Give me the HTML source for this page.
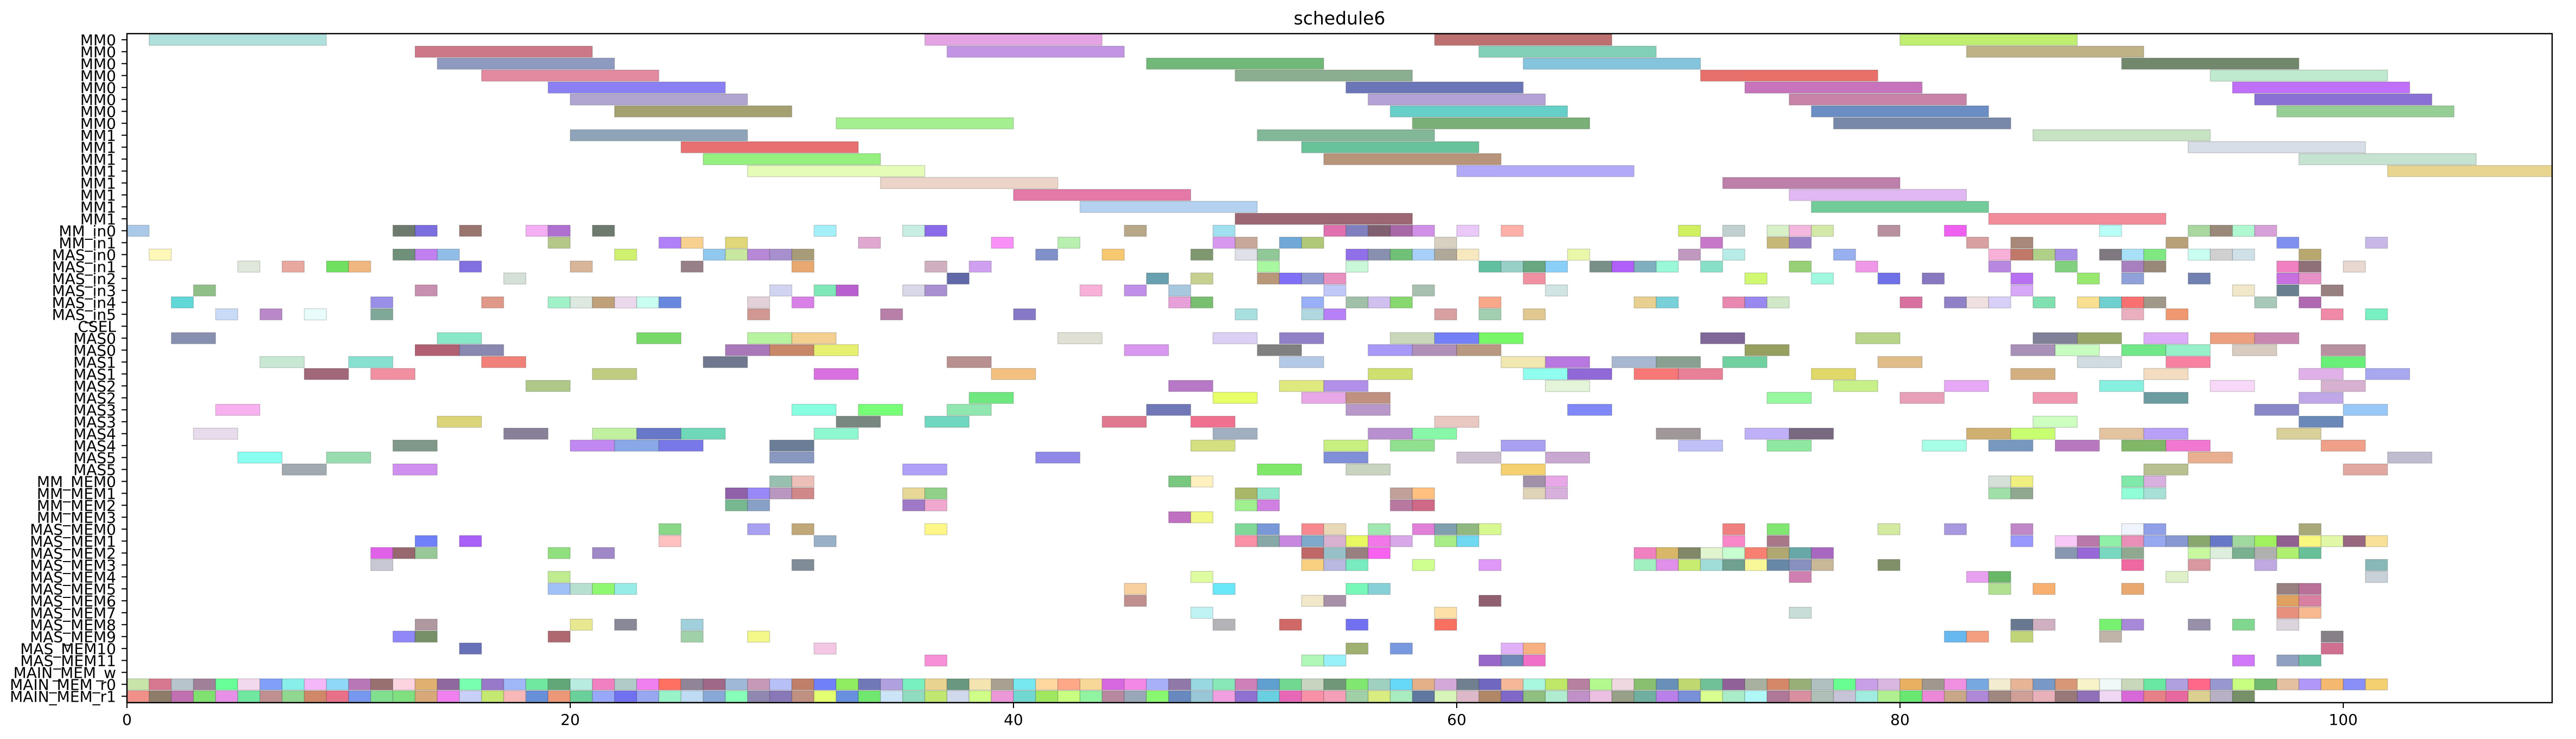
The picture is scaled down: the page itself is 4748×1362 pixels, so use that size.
<!DOCTYPE html>
<html><head><meta charset="utf-8"><style>
html,body{margin:0;padding:0;background:#fff}
svg{display:block}
.d rect{stroke:rgba(0,0,0,.16);stroke-width:1.5;vector-effect:non-scaling-stroke}
text{font-family:"DejaVu Sans","Liberation Sans",sans-serif;fill:#000}
</style></head><body>
<svg width="4748" height="1362" viewBox="0 0 4748 1362" xmlns="http://www.w3.org/2000/svg">
<defs><clipPath id="cp"><rect x="234" y="62" width="4470" height="1233"/></clipPath></defs>
<text x="2469" y="45" font-size="33" text-anchor="middle">schedule6</text>
<g clip-path="url(#cp)"><g class="d" transform="translate(234,73.3) scale(40.85,22)">
<g transform="translate(0,-0.47)"><rect x="1" width="8" height=".94" fill="#b0e0dc"/><rect x="36" width="8" height=".94" fill="#e4a4e4"/><rect x="59" width="8" height=".94" fill="#bc7070"/><rect x="80" width="8" height=".94" fill="#c0ee70"/></g>
<g transform="translate(0,0.53)"><rect x="13" width="8" height=".94" fill="#cc7888"/><rect x="37" width="8" height=".94" fill="#c494e4"/><rect x="61" width="8" height=".94" fill="#82d0b8"/><rect x="83" width="8" height=".94" fill="#beb286"/></g>
<g transform="translate(0,1.53)"><rect x="14" width="8" height=".94" fill="#8f9ac0"/><rect x="46" width="8" height=".94" fill="#72b878"/><rect x="63" width="8" height=".94" fill="#84c4dc"/><rect x="90" width="8" height=".94" fill="#72886c"/></g>
<g transform="translate(0,2.53)"><rect x="16" width="8" height=".94" fill="#e48aa0"/><rect x="50" width="8" height=".94" fill="#8cae90"/><rect x="71" width="8" height=".94" fill="#e8706a"/><rect x="94" width="8" height=".94" fill="#c0ead0"/></g>
<g transform="translate(0,3.53)"><rect x="19" width="8" height=".94" fill="#8a80f4"/><rect x="55" width="8" height=".94" fill="#6a76b8"/><rect x="73" width="8" height=".94" fill="#c874bc"/><rect x="95" width="8" height=".94" fill="#c070f8"/></g>
<g transform="translate(0,4.53)"><rect x="20" width="8" height=".94" fill="#b0a4d0"/><rect x="56" width="8" height=".94" fill="#b4a2d6"/><rect x="75" width="8" height=".94" fill="#c884a8"/><rect x="96" width="8" height=".94" fill="#8870d4"/></g>
<g transform="translate(0,5.53)"><rect x="22" width="8" height=".94" fill="#a4a070"/><rect x="57" width="8" height=".94" fill="#66d0c8"/><rect x="76" width="8" height=".94" fill="#6a8ec4"/><rect x="97" width="8" height=".94" fill="#96ce96"/></g>
<g transform="translate(0,6.53)"><rect x="32" width="8" height=".94" fill="#a4f090"/><rect x="58" width="8" height=".94" fill="#78b078"/><rect x="77" width="8" height=".94" fill="#7888a8"/></g>
<g transform="translate(0,7.53)"><rect x="20" width="8" height=".94" fill="#8fa4b8"/><rect x="51" width="8" height=".94" fill="#82b898"/><rect x="86" width="8" height=".94" fill="#c8e2c4"/></g>
<g transform="translate(0,8.53)"><rect x="25" width="8" height=".94" fill="#e87070"/><rect x="53" width="8" height=".94" fill="#6ac29a"/><rect x="93" width="8" height=".94" fill="#d8dee6"/></g>
<g transform="translate(0,9.53)"><rect x="26" width="8" height=".94" fill="#96f080"/><rect x="54" width="8" height=".94" fill="#b8947a"/><rect x="98" width="8" height=".94" fill="#c6e2d0"/></g>
<g transform="translate(0,10.53)"><rect x="28" width="8" height=".94" fill="#e4fcb8"/><rect x="60" width="8" height=".94" fill="#b2aaf8"/><rect x="102" width="8" height=".94" fill="#e8d690"/></g>
<g transform="translate(0,11.53)"><rect x="34" width="8" height=".94" fill="#ecd4c8"/><rect x="72" width="8" height=".94" fill="#bc80aa"/></g>
<g transform="translate(0,12.53)"><rect x="40" width="8" height=".94" fill="#e478a6"/><rect x="75" width="8" height=".94" fill="#e2b8f2"/></g>
<g transform="translate(0,13.53)"><rect x="43" width="8" height=".94" fill="#b4d2f0"/><rect x="76" width="8" height=".94" fill="#72cc9a"/></g>
<g transform="translate(0,14.53)"><rect x="50" width="8" height=".94" fill="#9c6672"/><rect x="84" width="8" height=".94" fill="#f28c9a"/></g>
<g transform="translate(0,15.53)"><rect x="0" width="1" height=".94" fill="#aac8e8"/><rect x="12" width="1" height=".94" fill="#6f7a6e"/><rect x="13" width="1" height=".94" fill="#7b6fe0"/><rect x="15" width="1" height=".94" fill="#9a7570"/><rect x="18" width="1" height=".94" fill="#f4aef4"/><rect x="19" width="1" height=".94" fill="#b070d0"/><rect x="21" width="1" height=".94" fill="#6f7a6e"/><rect x="31" width="1" height=".94" fill="#a5f0f8"/><rect x="35" width="1" height=".94" fill="#c8eee4"/><rect x="36" width="1" height=".94" fill="#8a6ae8"/><rect x="45" width="1" height=".94" fill="#b8a888"/><rect x="49" width="1" height=".94" fill="#a0e0f0"/><rect x="54" width="1" height=".94" fill="#e070b0"/><rect x="55" width="1" height=".94" fill="#8080c0"/><rect x="56" width="1" height=".94" fill="#806070"/><rect x="57" width="1" height=".94" fill="#a868a8"/><rect x="58" width="1" height=".94" fill="#d090e8"/><rect x="60" width="1" height=".94" fill="#eac8f8"/><rect x="62" width="1" height=".94" fill="#ffb0a8"/><rect x="70" width="1" height=".94" fill="#d0f060"/><rect x="72" width="1" height=".94" fill="#c0d0d0"/><rect x="74" width="1" height=".94" fill="#d8f0c8"/><rect x="75" width="1" height=".94" fill="#f4b8e0"/><rect x="76" width="1" height=".94" fill="#d4e8a8"/><rect x="79" width="1" height=".94" fill="#b890a0"/><rect x="82" width="1" height=".94" fill="#f060f0"/><rect x="89" width="1" height=".94" fill="#b8fff8"/><rect x="93" width="1" height=".94" fill="#a8d8a0"/><rect x="94" width="1" height=".94" fill="#9a8878"/><rect x="95" width="1" height=".94" fill="#b0f8d0"/><rect x="96" width="1" height=".94" fill="#d8a0d8"/></g>
<g transform="translate(0,16.53)"><rect x="19" width="1" height=".94" fill="#b4c888"/><rect x="24" width="1" height=".94" fill="#b080f8"/><rect x="25" width="1" height=".94" fill="#f8d090"/><rect x="27" width="1" height=".94" fill="#e0d878"/><rect x="33" width="1" height=".94" fill="#e0a8d0"/><rect x="39" width="1" height=".94" fill="#f890f8"/><rect x="42" width="1" height=".94" fill="#b8f0b0"/><rect x="49" width="1" height=".94" fill="#d898f0"/><rect x="50" width="1" height=".94" fill="#c8a898"/><rect x="52" width="1" height=".94" fill="#70a8d8"/><rect x="53" width="1" height=".94" fill="#b0c878"/><rect x="59" width="1" height=".94" fill="#d8d0c0"/><rect x="71" width="1" height=".94" fill="#c878c8"/><rect x="74" width="1" height=".94" fill="#c8b878"/><rect x="75" width="1" height=".94" fill="#9880c8"/><rect x="83" width="1" height=".94" fill="#d8a0a0"/><rect x="85" width="1" height=".94" fill="#a88878"/><rect x="92" width="1" height=".94" fill="#b8a078"/><rect x="97" width="1" height=".94" fill="#8090f0"/><rect x="101" width="1" height=".94" fill="#c8b8e8"/></g>
<g transform="translate(0,17.53)"><rect x="1" width="1" height=".94" fill="#fff8b8"/><rect x="12" width="1" height=".94" fill="#70907a"/><rect x="13" width="1" height=".94" fill="#c080f0"/><rect x="14" width="1" height=".94" fill="#90bce8"/><rect x="22" width="1" height=".94" fill="#d0f070"/><rect x="26" width="1" height=".94" fill="#90c8f0"/><rect x="27" width="1" height=".94" fill="#c8e8a0"/><rect x="28" width="1" height=".94" fill="#b888d8"/><rect x="29" width="1" height=".94" fill="#a890d0"/><rect x="30" width="1" height=".94" fill="#a89c78"/><rect x="41" width="1" height=".94" fill="#8090c8"/><rect x="44" width="1" height=".94" fill="#f8c870"/><rect x="48" width="1" height=".94" fill="#809870"/><rect x="50" width="1" height=".94" fill="#e0e0e8"/><rect x="51" width="1" height=".94" fill="#90c898"/><rect x="55" width="1" height=".94" fill="#9070e8"/><rect x="56" width="1" height=".94" fill="#8890b0"/><rect x="57" width="1" height=".94" fill="#70c078"/><rect x="58" width="1" height=".94" fill="#a8d0f8"/><rect x="59" width="1" height=".94" fill="#b0a898"/><rect x="60" width="1" height=".94" fill="#f8e8c0"/><rect x="65" width="1" height=".94" fill="#e8f8a8"/><rect x="70" width="1" height=".94" fill="#c098c0"/><rect x="72" width="1" height=".94" fill="#b8ece8"/><rect x="77" width="1" height=".94" fill="#98b0f0"/><rect x="84" width="1" height=".94" fill="#f8b0d8"/><rect x="85" width="1" height=".94" fill="#c07868"/><rect x="86" width="1" height=".94" fill="#b0d088"/><rect x="87" width="1" height=".94" fill="#a890e8"/><rect x="89" width="1" height=".94" fill="#807880"/><rect x="90" width="1" height=".94" fill="#a8e0f8"/><rect x="91" width="1" height=".94" fill="#80e880"/><rect x="93" width="1" height=".94" fill="#c8fff0"/><rect x="94" width="1" height=".94" fill="#d0d0d0"/><rect x="95" width="1" height=".94" fill="#d0e0e8"/><rect x="98" width="1" height=".94" fill="#b8a870"/></g>
<g transform="translate(0,18.53)"><rect x="5" width="1" height=".94" fill="#e0e8dc"/><rect x="7" width="1" height=".94" fill="#e8a8a0"/><rect x="9" width="1" height=".94" fill="#70e060"/><rect x="10" width="1" height=".94" fill="#f0b880"/><rect x="15" width="1" height=".94" fill="#8070e0"/><rect x="20" width="1" height=".94" fill="#d8b498"/><rect x="25" width="1" height=".94" fill="#988088"/><rect x="30" width="1" height=".94" fill="#e8a870"/><rect x="36" width="1" height=".94" fill="#d0b0c0"/><rect x="38" width="1" height=".94" fill="#d0a0f0"/><rect x="51" width="1" height=".94" fill="#a8f8a0"/><rect x="55" width="1" height=".94" fill="#c8f8d8"/><rect x="61" width="1" height=".94" fill="#60c0a0"/><rect x="62" width="1" height=".94" fill="#98d0c8"/><rect x="63" width="1" height=".94" fill="#68a880"/><rect x="64" width="1" height=".94" fill="#88d0f8"/><rect x="66" width="1" height=".94" fill="#789088"/><rect x="67" width="1" height=".94" fill="#b060f8"/><rect x="68" width="1" height=".94" fill="#80b0c0"/><rect x="69" width="1" height=".94" fill="#98f8d8"/><rect x="71" width="1" height=".94" fill="#88e0c8"/><rect x="75" width="1" height=".94" fill="#98d078"/><rect x="78" width="1" height=".94" fill="#f098e8"/><rect x="84" width="1" height=".94" fill="#b888e0"/><rect x="87" width="1" height=".94" fill="#80d080"/><rect x="90" width="1" height=".94" fill="#a880c0"/><rect x="91" width="1" height=".94" fill="#988878"/><rect x="97" width="1" height=".94" fill="#f080c0"/><rect x="98" width="1" height=".94" fill="#907078"/><rect x="100" width="1" height=".94" fill="#e8d8d0"/></g>
<g transform="translate(0,19.53)"><rect x="17" width="1" height=".94" fill="#d4e0d8"/><rect x="37" width="1" height=".94" fill="#6068a8"/><rect x="46" width="1" height=".94" fill="#68a0b0"/><rect x="48" width="1" height=".94" fill="#c8d090"/><rect x="51" width="1" height=".94" fill="#b89878"/><rect x="52" width="1" height=".94" fill="#8070f8"/><rect x="53" width="1" height=".94" fill="#9098d0"/><rect x="54" width="1" height=".94" fill="#e890c0"/><rect x="63" width="1" height=".94" fill="#f090a0"/><rect x="73" width="1" height=".94" fill="#d0f870"/><rect x="76" width="1" height=".94" fill="#a0f8e0"/><rect x="79" width="1" height=".94" fill="#7070e8"/><rect x="81" width="1" height=".94" fill="#8878c0"/><rect x="85" width="1" height=".94" fill="#b870f0"/><rect x="88" width="1" height=".94" fill="#98e870"/><rect x="90" width="1" height=".94" fill="#90a0d8"/><rect x="93" width="1" height=".94" fill="#7080b0"/><rect x="97" width="1" height=".94" fill="#c870e0"/><rect x="98" width="1" height=".94" fill="#e890c8"/></g>
<g transform="translate(0,20.53)"><rect x="3" width="1" height=".94" fill="#90c088"/><rect x="13" width="1" height=".94" fill="#c890b0"/><rect x="29" width="1" height=".94" fill="#d0d4f0"/><rect x="31" width="1" height=".94" fill="#80e8b8"/><rect x="32" width="1" height=".94" fill="#b860d0"/><rect x="35" width="1" height=".94" fill="#d8d8e8"/><rect x="36" width="1" height=".94" fill="#a890d0"/><rect x="43" width="1" height=".94" fill="#f8b0d8"/><rect x="45" width="1" height=".94" fill="#c090e8"/><rect x="47" width="1" height=".94" fill="#a8c8e0"/><rect x="54" width="1" height=".94" fill="#c0c8f8"/><rect x="58" width="1" height=".94" fill="#a8c0b0"/><rect x="64" width="1" height=".94" fill="#d0e4e4"/><rect x="85" width="1" height=".94" fill="#d8a8f8"/><rect x="95" width="1" height=".94" fill="#f0e8c8"/><rect x="97" width="1" height=".94" fill="#688090"/><rect x="99" width="1" height=".94" fill="#988080"/></g>
<g transform="translate(0,21.53)"><rect x="2" width="1" height=".94" fill="#60d8d8"/><rect x="11" width="1" height=".94" fill="#9890e8"/><rect x="16" width="1" height=".94" fill="#e09888"/><rect x="19" width="1" height=".94" fill="#a0f0c8"/><rect x="20" width="1" height=".94" fill="#dce8e0"/><rect x="21" width="1" height=".94" fill="#c0a078"/><rect x="22" width="1" height=".94" fill="#ecd8ec"/><rect x="23" width="1" height=".94" fill="#c8fff0"/><rect x="24" width="1" height=".94" fill="#6888e0"/><rect x="28" width="1" height=".94" fill="#e4d0d8"/><rect x="30" width="1" height=".94" fill="#d880e8"/><rect x="47" width="1" height=".94" fill="#e8a0d8"/><rect x="48" width="1" height=".94" fill="#78c070"/><rect x="53" width="1" height=".94" fill="#98b0f8"/><rect x="55" width="1" height=".94" fill="#a0c0a8"/><rect x="56" width="1" height=".94" fill="#d0c0f0"/><rect x="57" width="1" height=".94" fill="#88d870"/><rect x="61" width="1" height=".94" fill="#f8a888"/><rect x="68" width="1" height=".94" fill="#e8d090"/><rect x="69" width="1" height=".94" fill="#78d0d8"/><rect x="72" width="1" height=".94" fill="#e888b0"/><rect x="73" width="1" height=".94" fill="#9888f0"/><rect x="74" width="1" height=".94" fill="#d0e8c8"/><rect x="80" width="1" height=".94" fill="#d870a0"/><rect x="82" width="1" height=".94" fill="#9080c8"/><rect x="83" width="1" height=".94" fill="#f0e0e0"/><rect x="84" width="1" height=".94" fill="#d8d0f8"/><rect x="86" width="1" height=".94" fill="#80e0b0"/><rect x="88" width="1" height=".94" fill="#f8e090"/><rect x="89" width="1" height=".94" fill="#70d0d0"/><rect x="90" width="1" height=".94" fill="#f87070"/><rect x="91" width="1" height=".94" fill="#a09888"/><rect x="96" width="1" height=".94" fill="#a8c8b8"/><rect x="98" width="1" height=".94" fill="#b068b0"/></g>
<g transform="translate(0,22.53)"><rect x="4" width="1" height=".94" fill="#c8dcf8"/><rect x="6" width="1" height=".94" fill="#b888c8"/><rect x="8" width="1" height=".94" fill="#e8fcfc"/><rect x="11" width="1" height=".94" fill="#80a898"/><rect x="28" width="1" height=".94" fill="#d09890"/><rect x="34" width="1" height=".94" fill="#b880a8"/><rect x="40" width="1" height=".94" fill="#8878c8"/><rect x="50" width="1" height=".94" fill="#a8e0e0"/><rect x="53" width="1" height=".94" fill="#b0d8e0"/><rect x="54" width="1" height=".94" fill="#b880f8"/><rect x="59" width="1" height=".94" fill="#d8a0a0"/><rect x="61" width="1" height=".94" fill="#a0d0b0"/><rect x="63" width="1" height=".94" fill="#e0c890"/><rect x="90" width="1" height=".94" fill="#eab0c0"/><rect x="92" width="1" height=".94" fill="#f09870"/><rect x="99" width="1" height=".94" fill="#f088a8"/><rect x="101" width="1" height=".94" fill="#78f0c0"/></g>
<g transform="translate(0,24.53)"><rect x="2" width="2" height=".94" fill="#8890b0"/><rect x="14" width="2" height=".94" fill="#88e8c8"/><rect x="23" width="2" height=".94" fill="#78d868"/><rect x="28" width="2" height=".94" fill="#b8f4a0"/><rect x="30" width="2" height=".94" fill="#f4d090"/><rect x="42" width="2" height=".94" fill="#e0e0d4"/><rect x="49" width="2" height=".94" fill="#dcd0f4"/><rect x="52" width="2" height=".94" fill="#9080c8"/><rect x="57" width="2" height=".94" fill="#c8d8b8"/><rect x="59" width="2" height=".94" fill="#7480f8"/><rect x="61" width="2" height=".94" fill="#78f868"/><rect x="71" width="2" height=".94" fill="#806898"/><rect x="78" width="2" height=".94" fill="#b8d488"/><rect x="86" width="2" height=".94" fill="#808098"/><rect x="88" width="2" height=".94" fill="#98a868"/><rect x="91" width="2" height=".94" fill="#dcacf8"/><rect x="94" width="2" height=".94" fill="#eca080"/><rect x="96" width="2" height=".94" fill="#c888b0"/></g>
<g transform="translate(0,25.53)"><rect x="13" width="2" height=".94" fill="#b06070"/><rect x="15" width="2" height=".94" fill="#8888b0"/><rect x="27" width="2" height=".94" fill="#a878b8"/><rect x="29" width="2" height=".94" fill="#c88868"/><rect x="31" width="2" height=".94" fill="#e8f070"/><rect x="45" width="2" height=".94" fill="#d898f0"/><rect x="51" width="2" height=".94" fill="#808080"/><rect x="56" width="2" height=".94" fill="#a898f8"/><rect x="58" width="2" height=".94" fill="#b090b8"/><rect x="60" width="2" height=".94" fill="#b89880"/><rect x="73" width="2" height=".94" fill="#98a060"/><rect x="85" width="2" height=".94" fill="#a890b8"/><rect x="87" width="2" height=".94" fill="#c8fcc0"/><rect x="90" width="2" height=".94" fill="#70e888"/><rect x="92" width="2" height=".94" fill="#98f0c8"/><rect x="95" width="2" height=".94" fill="#d8ccc0"/><rect x="99" width="2" height=".94" fill="#b890a0"/></g>
<g transform="translate(0,26.53)"><rect x="6" width="2" height=".94" fill="#c8e8d4"/><rect x="10" width="2" height=".94" fill="#88e0d0"/><rect x="16" width="2" height=".94" fill="#f08078"/><rect x="26" width="2" height=".94" fill="#707890"/><rect x="37" width="2" height=".94" fill="#b89090"/><rect x="52" width="2" height=".94" fill="#b4c8e8"/><rect x="62" width="2" height=".94" fill="#f0e8b0"/><rect x="64" width="2" height=".94" fill="#b878e0"/><rect x="67" width="2" height=".94" fill="#a8b8d0"/><rect x="69" width="2" height=".94" fill="#88a090"/><rect x="72" width="2" height=".94" fill="#70d0a0"/><rect x="79" width="2" height=".94" fill="#e0bc88"/><rect x="88" width="2" height=".94" fill="#d0dce0"/><rect x="92" width="2" height=".94" fill="#f880a0"/><rect x="99" width="2" height=".94" fill="#68f078"/></g>
<g transform="translate(0,27.53)"><rect x="8" width="2" height=".94" fill="#a06878"/><rect x="11" width="2" height=".94" fill="#f090a0"/><rect x="21" width="2" height=".94" fill="#c0cc80"/><rect x="31" width="2" height=".94" fill="#d870e0"/><rect x="39" width="2" height=".94" fill="#f4c080"/><rect x="56" width="2" height=".94" fill="#d0e070"/><rect x="63" width="2" height=".94" fill="#90fff0"/><rect x="65" width="2" height=".94" fill="#9068d8"/><rect x="68" width="2" height=".94" fill="#f87878"/><rect x="70" width="2" height=".94" fill="#e88098"/><rect x="76" width="2" height=".94" fill="#e0d868"/><rect x="85" width="2" height=".94" fill="#d4b080"/><rect x="91" width="2" height=".94" fill="#f4dcc0"/><rect x="98" width="2" height=".94" fill="#e0b0e8"/><rect x="101" width="2" height=".94" fill="#a8a8f0"/></g>
<g transform="translate(0,28.53)"><rect x="18" width="2" height=".94" fill="#b0c888"/><rect x="47" width="2" height=".94" fill="#b878c8"/><rect x="52" width="2" height=".94" fill="#e0e880"/><rect x="54" width="2" height=".94" fill="#b090e8"/><rect x="64" width="2" height=".94" fill="#e4f4d8"/><rect x="77" width="2" height=".94" fill="#c8f088"/><rect x="82" width="2" height=".94" fill="#e8a8f8"/><rect x="89" width="2" height=".94" fill="#88f0e0"/><rect x="94" width="2" height=".94" fill="#f8d8f8"/><rect x="99" width="2" height=".94" fill="#d8b0d0"/></g>
<g transform="translate(0,29.53)"><rect x="38" width="2" height=".94" fill="#70e880"/><rect x="49" width="2" height=".94" fill="#e8ff68"/><rect x="53" width="2" height=".94" fill="#e8a8e8"/><rect x="55" width="2" height=".94" fill="#c09080"/><rect x="74" width="2" height=".94" fill="#98f8a0"/><rect x="80" width="2" height=".94" fill="#e8a0b8"/><rect x="86" width="2" height=".94" fill="#f098b0"/><rect x="91" width="2" height=".94" fill="#6a9ca0"/><rect x="98" width="2" height=".94" fill="#c0a8e8"/></g>
<g transform="translate(0,30.53)"><rect x="4" width="2" height=".94" fill="#f8b0f0"/><rect x="30" width="2" height=".94" fill="#88ffe0"/><rect x="33" width="2" height=".94" fill="#78ff78"/><rect x="37" width="2" height=".94" fill="#90e8b0"/><rect x="46" width="2" height=".94" fill="#7078b8"/><rect x="55" width="2" height=".94" fill="#b898c8"/><rect x="65" width="2" height=".94" fill="#8088f8"/><rect x="96" width="2" height=".94" fill="#8888c8"/><rect x="100" width="2" height=".94" fill="#98c8f8"/></g>
<g transform="translate(0,31.53)"><rect x="14" width="2" height=".94" fill="#dcd478"/><rect x="32" width="2" height=".94" fill="#788880"/><rect x="36" width="2" height=".94" fill="#70d8c0"/><rect x="44" width="2" height=".94" fill="#e07890"/><rect x="48" width="2" height=".94" fill="#f07090"/><rect x="59" width="2" height=".94" fill="#e8c8c0"/><rect x="86" width="2" height=".94" fill="#ccffc0"/><rect x="98" width="2" height=".94" fill="#6a88b8"/></g>
<g transform="translate(0,32.53)"><rect x="3" width="2" height=".94" fill="#e8dcec"/><rect x="17" width="2" height=".94" fill="#888098"/><rect x="21" width="2" height=".94" fill="#c0f0a0"/><rect x="23" width="2" height=".94" fill="#6878c8"/><rect x="25" width="2" height=".94" fill="#70d8b8"/><rect x="31" width="2" height=".94" fill="#90f8d0"/><rect x="49" width="2" height=".94" fill="#a0b0c0"/><rect x="56" width="2" height=".94" fill="#b890d0"/><rect x="58" width="2" height=".94" fill="#88f8a8"/><rect x="69" width="2" height=".94" fill="#a09898"/><rect x="73" width="2" height=".94" fill="#c0b0f8"/><rect x="75" width="2" height=".94" fill="#786880"/><rect x="83" width="2" height=".94" fill="#d0b070"/><rect x="85" width="2" height=".94" fill="#c8ff70"/><rect x="89" width="2" height=".94" fill="#e4c4a0"/><rect x="91" width="2" height=".94" fill="#b8a0f8"/><rect x="97" width="2" height=".94" fill="#d8d098"/></g>
<g transform="translate(0,33.53)"><rect x="12" width="2" height=".94" fill="#809888"/><rect x="20" width="2" height=".94" fill="#c088f0"/><rect x="22" width="2" height=".94" fill="#88a8e8"/><rect x="24" width="2" height=".94" fill="#7878e8"/><rect x="29" width="2" height=".94" fill="#6a7e98"/><rect x="48" width="2" height=".94" fill="#d4e080"/><rect x="54" width="2" height=".94" fill="#c8f080"/><rect x="57" width="2" height=".94" fill="#90e090"/><rect x="62" width="2" height=".94" fill="#a8a0f0"/><rect x="70" width="2" height=".94" fill="#c0c0f8"/><rect x="74" width="2" height=".94" fill="#8ee8a0"/><rect x="81" width="2" height=".94" fill="#a8ffe8"/><rect x="84" width="2" height=".94" fill="#7898c0"/><rect x="87" width="2" height=".94" fill="#b878c0"/><rect x="90" width="2" height=".94" fill="#80b868"/><rect x="92" width="2" height=".94" fill="#f078d0"/><rect x="99" width="2" height=".94" fill="#f0a088"/></g>
<g transform="translate(0,34.53)"><rect x="5" width="2" height=".94" fill="#88fff0"/><rect x="9" width="2" height=".94" fill="#98dcb0"/><rect x="29" width="2" height=".94" fill="#8898c0"/><rect x="41" width="2" height=".94" fill="#9088e8"/><rect x="54" width="2" height=".94" fill="#8090d8"/><rect x="60" width="2" height=".94" fill="#ccc0d0"/><rect x="64" width="2" height=".94" fill="#c8a8d0"/><rect x="93" width="2" height=".94" fill="#e8b090"/><rect x="102" width="2" height=".94" fill="#c0bcd0"/></g>
<g transform="translate(0,35.53)"><rect x="7" width="2" height=".94" fill="#a0aab0"/><rect x="12" width="2" height=".94" fill="#d090f0"/><rect x="35" width="2" height=".94" fill="#b0a0f8"/><rect x="51" width="2" height=".94" fill="#80e868"/><rect x="55" width="2" height=".94" fill="#c8d4c0"/><rect x="62" width="2" height=".94" fill="#f4d070"/><rect x="91" width="2" height=".94" fill="#b8c090"/><rect x="100" width="2" height=".94" fill="#e0a8a0"/></g>
<g transform="translate(0,36.53)"><rect x="29" width="1" height=".94" fill="#98c0b0"/><rect x="30" width="1" height=".94" fill="#ecc0b8"/><rect x="47" width="1" height=".94" fill="#78c880"/><rect x="48" width="1" height=".94" fill="#fff0c0"/><rect x="63" width="1" height=".94" fill="#a090a8"/><rect x="64" width="1" height=".94" fill="#e8a8e8"/><rect x="84" width="1" height=".94" fill="#d4e0d8"/><rect x="85" width="1" height=".94" fill="#f0f080"/><rect x="90" width="1" height=".94" fill="#80e8a8"/><rect x="91" width="1" height=".94" fill="#d8b0e0"/></g>
<g transform="translate(0,37.53)"><rect x="27" width="1" height=".94" fill="#9060a8"/><rect x="28" width="1" height=".94" fill="#9888f8"/><rect x="29" width="1" height=".94" fill="#b898c0"/><rect x="30" width="1" height=".94" fill="#d08888"/><rect x="35" width="1" height=".94" fill="#e8d898"/><rect x="36" width="1" height=".94" fill="#90d088"/><rect x="50" width="1" height=".94" fill="#a8b868"/><rect x="51" width="1" height=".94" fill="#90e8c8"/><rect x="57" width="1" height=".94" fill="#c0a098"/><rect x="58" width="1" height=".94" fill="#ffc080"/><rect x="63" width="1" height=".94" fill="#e0d4b8"/><rect x="64" width="1" height=".94" fill="#d8b0dc"/><rect x="84" width="1" height=".94" fill="#a0e0a8"/><rect x="85" width="1" height=".94" fill="#90a890"/><rect x="90" width="1" height=".94" fill="#90ffd8"/><rect x="91" width="1" height=".94" fill="#a8e0d8"/></g>
<g transform="translate(0,38.53)"><rect x="27" width="1" height=".94" fill="#78b890"/><rect x="28" width="1" height=".94" fill="#88a0c8"/><rect x="35" width="1" height=".94" fill="#a078c8"/><rect x="36" width="1" height=".94" fill="#f0a8d0"/><rect x="50" width="1" height=".94" fill="#a0f090"/><rect x="51" width="1" height=".94" fill="#d080e0"/><rect x="57" width="1" height=".94" fill="#b878a0"/><rect x="58" width="1" height=".94" fill="#d06888"/></g>
<g transform="translate(0,39.53)"><rect x="47" width="1" height=".94" fill="#c070c0"/><rect x="48" width="1" height=".94" fill="#f0f888"/></g>
<g transform="translate(0,40.53)"><rect x="24" width="1" height=".94" fill="#88d888"/><rect x="28" width="1" height=".94" fill="#a8a0f0"/><rect x="30" width="1" height=".94" fill="#c0a878"/><rect x="36" width="1" height=".94" fill="#fff888"/><rect x="50" width="1" height=".94" fill="#80d898"/><rect x="51" width="1" height=".94" fill="#7898d8"/><rect x="53" width="1" height=".94" fill="#f88890"/><rect x="54" width="1" height=".94" fill="#e8d8b8"/><rect x="56" width="1" height=".94" fill="#a0e8b0"/><rect x="58" width="1" height=".94" fill="#e080d8"/><rect x="59" width="1" height=".94" fill="#80a0b0"/><rect x="60" width="1" height=".94" fill="#90b880"/><rect x="61" width="1" height=".94" fill="#d8f890"/><rect x="72" width="1" height=".94" fill="#f08080"/><rect x="74" width="1" height=".94" fill="#80e870"/><rect x="79" width="1" height=".94" fill="#d4eaa0"/><rect x="82" width="1" height=".94" fill="#a898e0"/><rect x="85" width="1" height=".94" fill="#c088c8"/><rect x="90" width="1" height=".94" fill="#f0f4fc"/><rect x="91" width="1" height=".94" fill="#90a0e8"/><rect x="98" width="1" height=".94" fill="#a8a878"/></g>
<g transform="translate(0,41.53)"><rect x="13" width="1" height=".94" fill="#7080f8"/><rect x="15" width="1" height=".94" fill="#a860f8"/><rect x="24" width="1" height=".94" fill="#ffc0c0"/><rect x="31" width="1" height=".94" fill="#98b0c8"/><rect x="50" width="1" height=".94" fill="#f890a8"/><rect x="51" width="1" height=".94" fill="#88a8a8"/><rect x="52" width="1" height=".94" fill="#c888e0"/><rect x="53" width="1" height=".94" fill="#80a8c8"/><rect x="54" width="1" height=".94" fill="#d8b0d0"/><rect x="55" width="1" height=".94" fill="#e8f860"/><rect x="56" width="1" height=".94" fill="#f078e8"/><rect x="57" width="1" height=".94" fill="#d8a8e8"/><rect x="59" width="1" height=".94" fill="#a8ec88"/><rect x="60" width="1" height=".94" fill="#70d8f0"/><rect x="72" width="1" height=".94" fill="#f888c8"/><rect x="74" width="1" height=".94" fill="#a87888"/><rect x="85" width="1" height=".94" fill="#9898ff"/><rect x="87" width="1" height=".94" fill="#f8c8f8"/><rect x="88" width="1" height=".94" fill="#b878a8"/><rect x="89" width="1" height=".94" fill="#90f0a8"/><rect x="90" width="1" height=".94" fill="#e890b8"/><rect x="91" width="1" height=".94" fill="#98a8f0"/><rect x="92" width="1" height=".94" fill="#8898d0"/><rect x="93" width="1" height=".94" fill="#88a870"/><rect x="94" width="1" height=".94" fill="#6878c8"/><rect x="95" width="1" height=".94" fill="#a0d8a0"/><rect x="96" width="1" height=".94" fill="#a0f060"/><rect x="97" width="1" height=".94" fill="#906090"/><rect x="98" width="1" height=".94" fill="#f8f880"/><rect x="99" width="1" height=".94" fill="#e0f8a8"/><rect x="100" width="1" height=".94" fill="#986880"/><rect x="101" width="1" height=".94" fill="#f8e098"/></g>
<g transform="translate(0,42.53)"><rect x="11" width="1" height=".94" fill="#e060e8"/><rect x="12" width="1" height=".94" fill="#986870"/><rect x="13" width="1" height=".94" fill="#98c898"/><rect x="19" width="1" height=".94" fill="#90e080"/><rect x="21" width="1" height=".94" fill="#a088c8"/><rect x="53" width="1" height=".94" fill="#c06868"/><rect x="54" width="1" height=".94" fill="#98c0c8"/><rect x="55" width="1" height=".94" fill="#988080"/><rect x="56" width="1" height=".94" fill="#f860f0"/><rect x="68" width="1" height=".94" fill="#f080c0"/><rect x="69" width="1" height=".94" fill="#d8b868"/><rect x="70" width="1" height=".94" fill="#808868"/><rect x="71" width="1" height=".94" fill="#e0f4d0"/><rect x="72" width="1" height=".94" fill="#c8ffd0"/><rect x="73" width="1" height=".94" fill="#f88070"/><rect x="74" width="1" height=".94" fill="#b0a870"/><rect x="75" width="1" height=".94" fill="#68a8a8"/><rect x="76" width="1" height=".94" fill="#a868c0"/><rect x="87" width="1" height=".94" fill="#8898b0"/><rect x="88" width="1" height=".94" fill="#9868d8"/><rect x="89" width="1" height=".94" fill="#78d8c0"/><rect x="90" width="1" height=".94" fill="#90a890"/><rect x="93" width="1" height=".94" fill="#c8f8a0"/><rect x="94" width="1" height=".94" fill="#ddeedd"/><rect x="95" width="1" height=".94" fill="#78b090"/><rect x="96" width="1" height=".94" fill="#b0b0b0"/><rect x="97" width="1" height=".94" fill="#b0f070"/><rect x="98" width="1" height=".94" fill="#68c098"/></g>
<g transform="translate(0,43.53)"><rect x="11" width="1" height=".94" fill="#c8c8d4"/><rect x="30" width="1" height=".94" fill="#808c98"/><rect x="53" width="1" height=".94" fill="#f8d080"/><rect x="54" width="1" height=".94" fill="#b8b8e0"/><rect x="55" width="1" height=".94" fill="#78ecc0"/><rect x="58" width="1" height=".94" fill="#d0ff90"/><rect x="61" width="1" height=".94" fill="#e098f8"/><rect x="68" width="1" height=".94" fill="#a0f0c0"/><rect x="69" width="1" height=".94" fill="#e090e8"/><rect x="70" width="1" height=".94" fill="#c8ec70"/><rect x="71" width="1" height=".94" fill="#a0dcd8"/><rect x="72" width="1" height=".94" fill="#70a090"/><rect x="73" width="1" height=".94" fill="#f8f898"/><rect x="74" width="1" height=".94" fill="#6888a8"/><rect x="75" width="1" height=".94" fill="#8890c0"/><rect x="76" width="1" height=".94" fill="#c8b898"/><rect x="79" width="1" height=".94" fill="#809068"/><rect x="90" width="1" height=".94" fill="#f068a0"/><rect x="93" width="1" height=".94" fill="#d898a0"/><rect x="96" width="1" height=".94" fill="#c0a8e0"/><rect x="101" width="1" height=".94" fill="#88b8b8"/></g>
<g transform="translate(0,44.53)"><rect x="19" width="1" height=".94" fill="#c0ec90"/><rect x="48" width="1" height=".94" fill="#e0fca0"/><rect x="75" width="1" height=".94" fill="#d080b0"/><rect x="83" width="1" height=".94" fill="#e8a0f0"/><rect x="84" width="1" height=".94" fill="#68b868"/><rect x="92" width="1" height=".94" fill="#e0f0c8"/><rect x="101" width="1" height=".94" fill="#c8d0d8"/></g>
<g transform="translate(0,45.53)"><rect x="19" width="1" height=".94" fill="#a0c0f8"/><rect x="20" width="1" height=".94" fill="#b8e0d0"/><rect x="21" width="1" height=".94" fill="#90f870"/><rect x="22" width="1" height=".94" fill="#98ece8"/><rect x="45" width="1" height=".94" fill="#f8d0a0"/><rect x="49" width="1" height=".94" fill="#68e8f8"/><rect x="55" width="1" height=".94" fill="#78f8b8"/><rect x="56" width="1" height=".94" fill="#88d0d8"/><rect x="84" width="1" height=".94" fill="#b0e090"/><rect x="86" width="1" height=".94" fill="#f8b070"/><rect x="90" width="1" height=".94" fill="#e8a870"/><rect x="97" width="1" height=".94" fill="#988080"/><rect x="98" width="1" height=".94" fill="#b87098"/></g>
<g transform="translate(0,46.53)"><rect x="45" width="1" height=".94" fill="#c09090"/><rect x="53" width="1" height=".94" fill="#f0e8c8"/><rect x="54" width="1" height=".94" fill="#a890a8"/><rect x="61" width="1" height=".94" fill="#906070"/><rect x="97" width="1" height=".94" fill="#e0a060"/><rect x="98" width="1" height=".94" fill="#d880a0"/></g>
<g transform="translate(0,47.53)"><rect x="48" width="1" height=".94" fill="#c0f4f4"/><rect x="59" width="1" height=".94" fill="#fce0a8"/><rect x="75" width="1" height=".94" fill="#c8dcd8"/><rect x="97" width="1" height=".94" fill="#e89080"/><rect x="98" width="1" height=".94" fill="#f8b890"/></g>
<g transform="translate(0,48.53)"><rect x="13" width="1" height=".94" fill="#b098a0"/><rect x="20" width="1" height=".94" fill="#e8e890"/><rect x="22" width="1" height=".94" fill="#888898"/><rect x="25" width="1" height=".94" fill="#a0d0dc"/><rect x="49" width="1" height=".94" fill="#b4b4b8"/><rect x="52" width="1" height=".94" fill="#d06868"/><rect x="55" width="1" height=".94" fill="#7070f0"/><rect x="59" width="1" height=".94" fill="#f87060"/><rect x="85" width="1" height=".94" fill="#687890"/><rect x="86" width="1" height=".94" fill="#d0b0c0"/><rect x="89" width="1" height=".94" fill="#78f070"/><rect x="90" width="1" height=".94" fill="#a888d8"/><rect x="93" width="1" height=".94" fill="#9890a8"/><rect x="95" width="1" height=".94" fill="#80d890"/><rect x="97" width="1" height=".94" fill="#dcd4dc"/></g>
<g transform="translate(0,49.53)"><rect x="12" width="1" height=".94" fill="#9088f8"/><rect x="13" width="1" height=".94" fill="#789068"/><rect x="19" width="1" height=".94" fill="#b06870"/><rect x="25" width="1" height=".94" fill="#a0d0a8"/><rect x="28" width="1" height=".94" fill="#f4f888"/><rect x="82" width="1" height=".94" fill="#68b8f0"/><rect x="83" width="1" height=".94" fill="#f4a080"/><rect x="85" width="1" height=".94" fill="#c0d478"/><rect x="89" width="1" height=".94" fill="#c0b4a8"/><rect x="99" width="1" height=".94" fill="#888088"/></g>
<g transform="translate(0,50.53)"><rect x="15" width="1" height=".94" fill="#6870b8"/><rect x="31" width="1" height=".94" fill="#f4c8e4"/><rect x="55" width="1" height=".94" fill="#a0b070"/><rect x="57" width="1" height=".94" fill="#7898e0"/><rect x="62" width="1" height=".94" fill="#e0b0f8"/><rect x="63" width="1" height=".94" fill="#f8b080"/><rect x="99" width="1" height=".94" fill="#d07090"/></g>
<g transform="translate(0,51.53)"><rect x="36" width="1" height=".94" fill="#f890d8"/><rect x="53" width="1" height=".94" fill="#b0f8b8"/><rect x="54" width="1" height=".94" fill="#98f0f8"/><rect x="61" width="1" height=".94" fill="#9868c8"/><rect x="62" width="1" height=".94" fill="#7088b8"/><rect x="63" width="1" height=".94" fill="#f070c8"/><rect x="95" width="1" height=".94" fill="#d078f8"/><rect x="97" width="1" height=".94" fill="#90a0c0"/><rect x="98" width="1" height=".94" fill="#68c0a0"/></g>
<g transform="translate(0,53.53)"><rect x="0" width="1" height=".94" fill="#c8e4a8"/><rect x="1" width="1" height=".94" fill="#d87890"/><rect x="2" width="1" height=".94" fill="#b8c4cc"/><rect x="3" width="1" height=".94" fill="#a08098"/><rect x="4" width="1" height=".94" fill="#68ff98"/><rect x="5" width="1" height=".94" fill="#f4d8ec"/><rect x="6" width="1" height=".94" fill="#80a0f8"/><rect x="7" width="1" height=".94" fill="#88f0e8"/><rect x="8" width="1" height=".94" fill="#f4b8f8"/><rect x="9" width="1" height=".94" fill="#90d8f8"/><rect x="10" width="1" height=".94" fill="#b878b8"/><rect x="11" width="1" height=".94" fill="#987070"/><rect x="12" width="1" height=".94" fill="#fcd4e0"/><rect x="13" width="1" height=".94" fill="#e0b070"/><rect x="14" width="1" height=".94" fill="#9068a0"/><rect x="15" width="1" height=".94" fill="#78ffb0"/><rect x="16" width="1" height=".94" fill="#9878c8"/><rect x="17" width="1" height=".94" fill="#a0b8f8"/><rect x="18" width="1" height=".94" fill="#70e8a0"/><rect x="19" width="1" height=".94" fill="#60a878"/><rect x="20" width="1" height=".94" fill="#b8ece0"/><rect x="21" width="1" height=".94" fill="#f080c0"/><rect x="22" width="1" height=".94" fill="#b0ccc8"/><rect x="23" width="1" height=".94" fill="#f080f0"/><rect x="24" width="1" height=".94" fill="#ff7060"/><rect x="25" width="1" height=".94" fill="#908498"/><rect x="26" width="1" height=".94" fill="#a06888"/><rect x="27" width="1" height=".94" fill="#a0b8d8"/><rect x="28" width="1" height=".94" fill="#c898b8"/><rect x="29" width="1" height=".94" fill="#b8c0f8"/><rect x="30" width="1" height=".94" fill="#c08068"/><rect x="31" width="1" height=".94" fill="#7080f8"/><rect x="32" width="1" height=".94" fill="#90ec60"/><rect x="33" width="1" height=".94" fill="#7078b8"/><rect x="34" width="1" height=".94" fill="#b0a0e0"/><rect x="35" width="1" height=".94" fill="#78f0c0"/><rect x="36" width="1" height=".94" fill="#e8d490"/><rect x="37" width="1" height=".94" fill="#689880"/><rect x="38" width="1" height=".94" fill="#f4e4b0"/><rect x="39" width="1" height=".94" fill="#a8a090"/><rect x="40" width="1" height=".94" fill="#78e8f0"/><rect x="41" width="1" height=".94" fill="#ffd8a0"/><rect x="42" width="1" height=".94" fill="#ffa888"/><rect x="43" width="1" height=".94" fill="#f8d898"/><rect x="44" width="1" height=".94" fill="#d868e0"/><rect x="45" width="1" height=".94" fill="#f488e8"/><rect x="46" width="1" height=".94" fill="#a8b0f8"/><rect x="47" width="1" height=".94" fill="#9078a8"/><rect x="48" width="1" height=".94" fill="#98d8e0"/><rect x="49" width="1" height=".94" fill="#88e8b8"/><rect x="50" width="1" height=".94" fill="#d080b8"/><rect x="51" width="1" height=".94" fill="#60a0d0"/><rect x="52" width="1" height=".94" fill="#70d890"/><rect x="53" width="1" height=".94" fill="#c8d4c0"/><rect x="54" width="1" height=".94" fill="#709878"/><rect x="55" width="1" height=".94" fill="#80e870"/><rect x="56" width="1" height=".94" fill="#a0d0c0"/><rect x="57" width="1" height=".94" fill="#68d8f8"/><rect x="58" width="1" height=".94" fill="#e4b088"/><rect x="59" width="1" height=".94" fill="#d4a8d8"/><rect x="60" width="1" height=".94" fill="#708090"/><rect x="61" width="1" height=".94" fill="#7068c0"/><rect x="62" width="1" height=".94" fill="#f4b898"/><rect x="63" width="1" height=".94" fill="#a8f8e0"/><rect x="64" width="1" height=".94" fill="#c0e868"/><rect x="65" width="1" height=".94" fill="#b880a0"/><rect x="66" width="1" height=".94" fill="#b4f890"/><rect x="67" width="1" height=".94" fill="#f0d8e0"/><rect x="68" width="1" height=".94" fill="#88c070"/><rect x="69" width="1" height=".94" fill="#6890b8"/><rect x="70" width="1" height=".94" fill="#c0d870"/><rect x="71" width="1" height=".94" fill="#70c098"/><rect x="72" width="1" height=".94" fill="#906098"/><rect x="73" width="1" height=".94" fill="#a8b0a0"/><rect x="74" width="1" height=".94" fill="#d48868"/><rect x="75" width="1" height=".94" fill="#98b078"/><rect x="76" width="1" height=".94" fill="#b0c0c0"/><rect x="77" width="1" height=".94" fill="#68ff90"/><rect x="78" width="1" height=".94" fill="#c8a0e8"/><rect x="79" width="1" height=".94" fill="#d8b8e0"/><rect x="80" width="1" height=".94" fill="#e8b060"/><rect x="81" width="1" height=".94" fill="#a09890"/><rect x="82" width="1" height=".94" fill="#f090e0"/><rect x="83" width="1" height=".94" fill="#78a8e0"/><rect x="84" width="1" height=".94" fill="#f4ecd0"/><rect x="85" width="1" height=".94" fill="#e8b498"/><rect x="86" width="1" height=".94" fill="#7898c8"/><rect x="87" width="1" height=".94" fill="#d89878"/><rect x="88" width="1" height=".94" fill="#f8f4c8"/><rect x="89" width="1" height=".94" fill="#f0f8f8"/><rect x="90" width="1" height=".94" fill="#c8d8b8"/><rect x="91" width="1" height=".94" fill="#68e8a0"/><rect x="92" width="1" height=".94" fill="#b0a0e0"/><rect x="93" width="1" height=".94" fill="#ff6888"/><rect x="94" width="1" height=".94" fill="#9898d0"/><rect x="95" width="1" height=".94" fill="#c8ff80"/><rect x="96" width="1" height=".94" fill="#70b870"/><rect x="97" width="1" height=".94" fill="#e4c0a0"/><rect x="98" width="1" height=".94" fill="#b098f8"/><rect x="99" width="1" height=".94" fill="#f4b870"/><rect x="100" width="1" height=".94" fill="#8890f8"/><rect x="101" width="1" height=".94" fill="#f4d070"/></g>
<g transform="translate(0,54.53)"><rect x="0" width="1" height=".94" fill="#f09088"/><rect x="1" width="1" height=".94" fill="#8c7c68"/><rect x="2" width="1" height=".94" fill="#c070b0"/><rect x="3" width="1" height=".94" fill="#80e070"/><rect x="4" width="1" height=".94" fill="#e890e8"/><rect x="5" width="1" height=".94" fill="#70e8a0"/><rect x="6" width="1" height=".94" fill="#c09090"/><rect x="7" width="1" height=".94" fill="#90d890"/><rect x="8" width="1" height=".94" fill="#d08868"/><rect x="9" width="1" height=".94" fill="#e87088"/><rect x="10" width="1" height=".94" fill="#7898f0"/><rect x="11" width="1" height=".94" fill="#80e090"/><rect x="12" width="1" height=".94" fill="#80e080"/><rect x="13" width="1" height=".94" fill="#d8a878"/><rect x="14" width="1" height=".94" fill="#f080f0"/><rect x="15" width="1" height=".94" fill="#c8d0f8"/><rect x="16" width="1" height=".94" fill="#c4e870"/><rect x="17" width="1" height=".94" fill="#f8b8b8"/><rect x="18" width="1" height=".94" fill="#6890d8"/><rect x="19" width="1" height=".94" fill="#ec9878"/><rect x="20" width="1" height=".94" fill="#68d098"/><rect x="21" width="1" height=".94" fill="#98a8f8"/><rect x="22" width="1" height=".94" fill="#7070f0"/><rect x="23" width="1" height=".94" fill="#98a8f0"/><rect x="24" width="1" height=".94" fill="#98f4c8"/><rect x="25" width="1" height=".94" fill="#c0dcf4"/><rect x="26" width="1" height=".94" fill="#88a8d8"/><rect x="27" width="1" height=".94" fill="#88ffb8"/><rect x="28" width="1" height=".94" fill="#9088b0"/><rect x="29" width="1" height=".94" fill="#8878b8"/><rect x="30" width="1" height=".94" fill="#c09080"/><rect x="31" width="1" height=".94" fill="#e4ff70"/><rect x="32" width="1" height=".94" fill="#6890e0"/><rect x="33" width="1" height=".94" fill="#70e870"/><rect x="34" width="1" height=".94" fill="#cce4f8"/><rect x="35" width="1" height=".94" fill="#90dcc0"/><rect x="36" width="1" height=".94" fill="#c0e870"/><rect x="37" width="1" height=".94" fill="#d0d8ec"/><rect x="38" width="1" height=".94" fill="#d0ff88"/><rect x="39" width="1" height=".94" fill="#ec98d8"/><rect x="40" width="1" height=".94" fill="#70d8d0"/><rect x="41" width="1" height=".94" fill="#a0e860"/><rect x="42" width="1" height=".94" fill="#c8ff80"/><rect x="43" width="1" height=".94" fill="#90f4a0"/><rect x="44" width="1" height=".94" fill="#b888a0"/><rect x="45" width="1" height=".94" fill="#98a8b8"/><rect x="46" width="1" height=".94" fill="#88f870"/><rect x="47" width="1" height=".94" fill="#6888c0"/><rect x="48" width="1" height=".94" fill="#98c8d8"/><rect x="49" width="1" height=".94" fill="#f0a0e0"/><rect x="50" width="1" height=".94" fill="#9070d0"/><rect x="51" width="1" height=".94" fill="#68d0e0"/><rect x="52" width="1" height=".94" fill="#e868b8"/><rect x="53" width="1" height=".94" fill="#f890a8"/><rect x="54" width="1" height=".94" fill="#f4a0b8"/><rect x="55" width="1" height=".94" fill="#a0d0a8"/><rect x="56" width="1" height=".94" fill="#d8ec80"/><rect x="57" width="1" height=".94" fill="#a8ecc0"/><rect x="58" width="1" height=".94" fill="#6078a0"/><rect x="59" width="1" height=".94" fill="#d8f4b8"/><rect x="60" width="1" height=".94" fill="#dcb8c8"/><rect x="61" width="1" height=".94" fill="#b08868"/><rect x="62" width="1" height=".94" fill="#8068c8"/><rect x="63" width="1" height=".94" fill="#90c080"/><rect x="64" width="1" height=".94" fill="#b0ecd0"/><rect x="65" width="1" height=".94" fill="#c090c8"/><rect x="66" width="1" height=".94" fill="#ecc0e0"/><rect x="67" width="1" height=".94" fill="#98a088"/><rect x="68" width="1" height=".94" fill="#70b0a0"/><rect x="69" width="1" height=".94" fill="#b880e8"/><rect x="70" width="1" height=".94" fill="#7890d8"/><rect x="71" width="1" height=".94" fill="#d8ff90"/><rect x="72" width="1" height=".94" fill="#a8ecc8"/><rect x="73" width="1" height=".94" fill="#b0f8f8"/><rect x="74" width="1" height=".94" fill="#b07898"/><rect x="75" width="1" height=".94" fill="#d890a0"/><rect x="76" width="1" height=".94" fill="#b0c0b8"/><rect x="77" width="1" height=".94" fill="#c8c4d8"/><rect x="78" width="1" height=".94" fill="#a0ece0"/><rect x="79" width="1" height=".94" fill="#b0f090"/><rect x="80" width="1" height=".94" fill="#68e870"/><rect x="81" width="1" height=".94" fill="#ec88d8"/><rect x="82" width="1" height=".94" fill="#c8a888"/><rect x="83" width="1" height=".94" fill="#b088d8"/><rect x="84" width="1" height=".94" fill="#a08880"/><rect x="85" width="1" height=".94" fill="#d0a098"/><rect x="86" width="1" height=".94" fill="#e8b0b8"/><rect x="87" width="1" height=".94" fill="#987878"/><rect x="88" width="1" height=".94" fill="#9070b8"/><rect x="89" width="1" height=".94" fill="#f0d8f4"/><rect x="90" width="1" height=".94" fill="#d868d8"/><rect x="91" width="1" height=".94" fill="#e88088"/><rect x="92" width="1" height=".94" fill="#e868a0"/><rect x="93" width="1" height=".94" fill="#dcd090"/><rect x="94" width="1" height=".94" fill="#b8b0c4"/><rect x="95" width="1" height=".94" fill="#789068"/></g>
</g></g>
<rect x="234" y="62" width="4470" height="1233" fill="none" stroke="#000" stroke-width="2.4"/>
<g stroke="#000" stroke-width="2">
<line x1="234" y1="1295" x2="234" y2="1305"/><line x1="1051" y1="1295" x2="1051" y2="1305"/><line x1="1868" y1="1295" x2="1868" y2="1305"/><line x1="2685" y1="1295" x2="2685" y2="1305"/><line x1="3502" y1="1295" x2="3502" y2="1305"/><line x1="4319" y1="1295" x2="4319" y2="1305"/>
</g>
<g font-size="28" text-anchor="middle">
<text x="234" y="1336">0</text><text x="1051" y="1336">20</text><text x="1868" y="1336">40</text><text x="2685" y="1336">60</text><text x="3502" y="1336">80</text><text x="4319" y="1336">100</text>
</g>
<g stroke="#000" stroke-width="2">
<path d="M224 73.3h10M224 95.3h10M224 117.3h10M224 139.3h10M224 161.3h10M224 183.3h10M224 205.3h10M224 227.3h10M224 249.3h10M224 271.3h10M224 293.3h10M224 315.3h10M224 337.3h10M224 359.3h10M224 381.3h10M224 403.3h10M224 425.3h10M224 447.3h10M224 469.3h10M224 491.3h10M224 513.3h10M224 535.3h10M224 557.3h10M224 579.3h10M224 601.3h10M224 623.3h10M224 645.3h10M224 667.3h10M224 689.3h10M224 711.3h10M224 733.3h10M224 755.3h10M224 777.3h10M224 799.3h10M224 821.3h10M224 843.3h10M224 865.3h10M224 887.3h10M224 909.3h10M224 931.3h10M224 953.3h10M224 975.3h10M224 997.3h10M224 1019.3h10M224 1041.3h10M224 1063.3h10M224 1085.3h10M224 1107.3h10M224 1129.3h10M224 1151.3h10M224 1173.3h10M224 1195.3h10M224 1217.3h10M224 1239.3h10M224 1261.3h10M224 1283.3h10"/>
</g>
<g font-size="28" text-anchor="end">
<text x="214" y="83.3">MM0</text><text x="214" y="105.3">MM0</text><text x="214" y="127.3">MM0</text><text x="214" y="149.3">MM0</text><text x="214" y="171.3">MM0</text><text x="214" y="193.3">MM0</text><text x="214" y="215.3">MM0</text><text x="214" y="237.3">MM0</text>
<text x="214" y="259.3">MM1</text><text x="214" y="281.3">MM1</text><text x="214" y="303.3">MM1</text><text x="214" y="325.3">MM1</text><text x="214" y="347.3">MM1</text><text x="214" y="369.3">MM1</text><text x="214" y="391.3">MM1</text><text x="214" y="413.3">MM1</text>
<text x="214" y="435.3">MM_in0</text><text x="214" y="457.3">MM_in1</text><text x="214" y="479.3">MAS_in0</text><text x="214" y="501.3">MAS_in1</text><text x="214" y="523.3">MAS_in2</text><text x="214" y="545.3">MAS_in3</text><text x="214" y="567.3">MAS_in4</text><text x="214" y="589.3">MAS_in5</text>
<text x="214" y="611.3">CSEL</text>
<text x="214" y="633.3">MAS0</text><text x="214" y="655.3">MAS0</text><text x="214" y="677.3">MAS1</text><text x="214" y="699.3">MAS1</text><text x="214" y="721.3">MAS2</text><text x="214" y="743.3">MAS2</text><text x="214" y="765.3">MAS3</text><text x="214" y="787.3">MAS3</text><text x="214" y="809.3">MAS4</text><text x="214" y="831.3">MAS4</text><text x="214" y="853.3">MAS5</text><text x="214" y="875.3">MAS5</text>
<text x="214" y="897.3">MM_MEM0</text><text x="214" y="919.3">MM_MEM1</text><text x="214" y="941.3">MM_MEM2</text><text x="214" y="963.3">MM_MEM3</text>
<text x="214" y="985.3">MAS_MEM0</text><text x="214" y="1007.3">MAS_MEM1</text><text x="214" y="1029.3">MAS_MEM2</text><text x="214" y="1051.3">MAS_MEM3</text><text x="214" y="1073.3">MAS_MEM4</text><text x="214" y="1095.3">MAS_MEM5</text><text x="214" y="1117.3">MAS_MEM6</text><text x="214" y="1139.3">MAS_MEM7</text><text x="214" y="1161.3">MAS_MEM8</text><text x="214" y="1183.3">MAS_MEM9</text><text x="214" y="1205.3">MAS_MEM10</text><text x="214" y="1227.3">MAS_MEM11</text>
<text x="214" y="1249.3">MAIN_MEM_w</text><text x="214" y="1271.3">MAIN_MEM_r0</text><text x="214" y="1293.3">MAIN_MEM_r1</text>
</g>
</svg>
</body></html>
